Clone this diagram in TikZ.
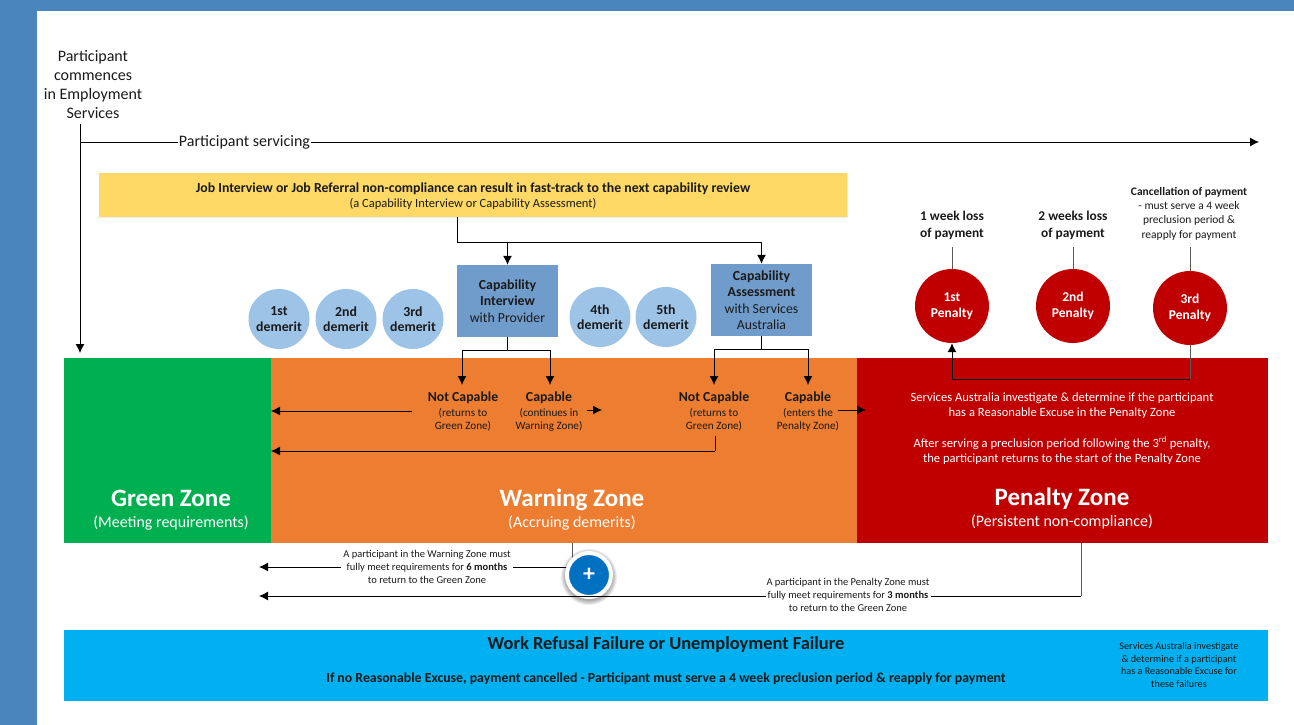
\documentclass[tikz,border=0pt]{standalone}
\usepackage{fontspec}
\setmainfont{Carlito}
\usetikzlibrary{arrows.meta,shadows,calc,shapes.geometric}
\definecolor{frameblue}{HTML}{4A86BC}
\definecolor{amber}{HTML}{FFD966}
\definecolor{boxblue}{HTML}{709CCC}
\definecolor{demerit}{HTML}{9DC3E6}
\definecolor{zgreen}{HTML}{00B050}
\definecolor{zorange}{HTML}{ED7D31}
\definecolor{zred}{HTML}{C00000}
\definecolor{zsky}{HTML}{00B0F0}
\definecolor{plusblue}{HTML}{0070C0}
\definecolor{ink}{HTML}{1A1A1A}
\tikzset{
  frameband/.style={fill=frameblue,draw=none},
  zonebox/.style={draw=none,inner sep=0pt,anchor=north west},
  capbox/.style={rectangle,fill=boxblue,draw=none,minimum width=101pt,minimum height=72pt,inner sep=1pt,align=center,text=ink,font=\fontsize{13.8}{16.5}\selectfont},
  dem/.style={ellipse,fill=demerit,draw=none,minimum width=61pt,minimum height=60pt,inner sep=-5pt,align=center,text=ink,font=\bfseries\fontsize{13.8}{15.5}\selectfont},
  pen/.style={circle,fill=zred,draw=none,minimum size=74pt,inner sep=0pt,align=center,text=white,font=\bfseries\fontsize{13.5}{16}\selectfont},
  conn/.style={draw=black,line width=1pt},
  arr/.style={conn,-{Latex[length=9pt,width=9pt]}},
  greyline/.style={draw=black!65,line width=1pt},
  head/.style={text=ink,font=\bfseries\fontsize{13.8}{15}\selectfont,align=center,inner sep=0pt},
  small/.style={text=ink,font=\fontsize{11.2}{13}\selectfont,align=center,inner sep=0pt},
  note/.style={text=ink,font=\fontsize{10.5}{13}\selectfont,align=center,inner sep=0pt},
  big/.style={text=white,font=\bfseries\fontsize{25}{28}\selectfont,inner sep=0pt,text height=18pt,text depth=5pt},
  zonesub/.style={text=white,font=\fontsize{16}{18}\selectfont,inner sep=0pt},
  redtext/.style={text=white,font=\fontsize{12.6}{15.3}\selectfont,align=center,inner sep=0pt},
}
\begin{document}
\begin{tikzpicture}[x=1pt,y=-1pt]
\useasboundingbox (0,0) rectangle (1294,725);
\fill[white] (0,0) rectangle (1294,725);
\path[frameband] (0,0) rectangle (1294,11);
\path[frameband] (0,0) rectangle (37,725);

% zones
\node[zonebox,fill=zorange,minimum width=586pt,minimum height=185pt] (warn) at (271,358) {};
\node[zonebox,fill=zgreen,minimum width=207pt,minimum height=185pt] (green) at (64,358) {};
\node[zonebox,fill=zred,minimum width=411pt,minimum height=185pt] (red) at (857,358) {};
\node[zonebox,fill=zsky,minimum width=1204pt,minimum height=71pt] (sky) at (64,630) {};
\node[zonebox,fill=amber,minimum width=748pt,minimum height=44pt,drop shadow={opacity=0.15,shadow xshift=1pt,shadow yshift=-1pt}] (yellow) at (99,173) {};

% boxes
\node[capbox] (interview) at (507.5,301) {\textbf{Capability}\\\textbf{Interview}\\with Provider};
\node[capbox] (assess) at (761.5,300) {\textbf{Capability}\\\textbf{Assessment}\\with Services\\Australia};
\node[dem] (d1) at (279,319) {1st\\demerit};
\node[dem] (d2) at (346,319) {2nd\\demerit};
\node[dem] (d3) at (413,319) {3rd\\demerit};
\node[dem] (d4) at (600,317) {4th\\demerit};
\node[dem] (d5) at (666,317) {5th\\demerit};
\node[pen] (p1) at (952,306) {1st\\Penalty};
\node[pen] (p2) at (1073,306) {2nd\\Penalty};
\node[pen] (p3) at (1190,308) {3rd\\Penalty};

% labels above penalties
\node[head,font=\bfseries\fontsize{13.4}{17}\selectfont] (l1) at (952,225.5) {1 week loss\\of payment};
\node[head,font=\bfseries\fontsize{13.4}{17}\selectfont] (l2) at (1073,225.5) {2 weeks loss\\of payment};
\node[small,font=\fontsize{11.5}{14.3}\selectfont] (l3) at (1189,213.5) {\textbf{Cancellation of payment}\\- must serve a 4 week\\preclusion period \&\\reapply for payment};

% coordinates
\coordinate (start) at (80,124);
\coordinate (greenin) at (80,353);
\coordinate (srvstart) at (80,142);
\coordinate (srvend) at (1259,142);
\coordinate (yout) at (457,217);
\coordinate (ybend) at (457,242);
\coordinate (split1) at (507.5,350);
\coordinate (n1) at (462,385);
\coordinate (c1) at (550,385);
\coordinate (split2) at (761.5,349);
\coordinate (n2) at (714,385);
\coordinate (c2) at (808,385);
\coordinate (leftA) at (412,411);
\coordinate (leftAend) at (271,411);
\coordinate (contA) at (587,410);
\coordinate (contB) at (602,410);
\coordinate (entA) at (838,410);
\coordinate (entB) at (866,410);
\coordinate (ret) at (715,436);
\coordinate (retc) at (715,451);
\coordinate (retend) at (271,451);
\coordinate (loopA) at (1190,379);
\coordinate (loopB) at (952,379);
\coordinate (t1) at (952,247);
\coordinate (t2) at (1073,247);
\coordinate (t3) at (1190,247);
\coordinate (wout) at (572,543);
\coordinate (wc) at (572,567);
\coordinate (wend) at (259,567);
\coordinate (pout) at (1081,543);
\coordinate (pc) at (1081,596);
\coordinate (pend) at (259,596);
\coordinate (pluscentre) at (589,575);

% connectors
\draw[conn] (start) -- (srvstart);
\draw[arr] (srvstart) -- (greenin);
\draw[arr] (srvstart) -- (srvend);
\draw[conn] (yout) -- (ybend);
\draw[arr] (ybend) -| (interview.north);
\draw[arr] (ybend) -| (assess.north);
\draw[conn] (interview.south) -- (split1);
\draw[arr] (split1) -| (n1);
\draw[arr] (split1) -| (c1);
\draw[conn] (assess.south) -- (split2);
\draw[arr] (split2) -| (n2);
\draw[arr] (split2) -| (c2);
\draw[arr] (leftA) -- (leftAend);
\draw[arr] (contA) -- (contB);
\draw[arr] (entA) -- (entB);
\draw[conn] (ret) -- (retc);
\draw[arr] (retc) -- (retend);
\draw[greyline] (t1) -- (p1.north);
\draw[greyline] (t2) -- (p2.north);
\draw[greyline] (t3) -- (p3.north);
\draw[greyline] (p3.south) -- (loopA);
\draw[arr] (loopA) -- (loopB) -- (p1.south);
\draw[greyline] (wout) -- (wc);
\draw[arr] (wc) -- (wend);
\draw[greyline] (pout) -- (pc);

% text
\node[text=ink,font=\fontsize{16}{19}\selectfont,align=center,inner sep=0pt] (title) at (93,84.5) {Participant\\commences\\in Employment\\Services};
\node[fill=white,text=ink,font=\fontsize{16}{18}\selectfont,inner sep=1pt] (servicing) at (244.5,142) {Participant servicing};
\node[text=ink,font=\bfseries\fontsize{13.8}{16}\selectfont,inner sep=0pt] (ytext) at (473,188.5) {Job Interview or Job Referral non-compliance can result in fast-track to the next capability review};
\node[text=ink,font=\fontsize{12.5}{16}\selectfont,inner sep=0pt] (ysub) at (473,204) {(a Capability Interview or Capability Assessment)};

\node[head] (tn1) at (463,397.5) {Not Capable};
\node[small] (sn1) at (463,419.5) {(returns to\\Green Zone)};
\node[head] (tc1) at (549,397.5) {Capable};
\node[small] (sc1) at (549,419.5) {(continues in\\Warning Zone)};
\node[head] (tn2) at (714,397.5) {Not Capable};
\node[small] (sn2) at (714,419.5) {(returns to\\Green Zone)};
\node[head] (tc2) at (808,397.5) {Capable};
\node[small] (sc2) at (808,419.5) {(enters the\\Penalty Zone)};

\node[redtext] (r1) at (1062,405.5) {Services Australia investigate \& determine if the participant\\has a Reasonable Excuse in the Penalty Zone};
\node[redtext] (r2) at (1062,450.5) {After serving a preclusion period following the 3\textsuperscript{rd} penalty,\\the participant returns to the start of the Penalty Zone};

\node[big] (gz) at (171,500) {Green Zone};
\node[zonesub] (gs) at (171,523) {(Meeting requirements)};
\node[big] (wz) at (572,500) {Warning Zone};
\node[zonesub] (ws) at (572,523) {(Accruing demerits)};
\node[big] (pz) at (1062,499) {Penalty Zone};
\node[zonesub] (ps) at (1062,522) {(Persistent non-compliance)};

\node[note,fill=white,inner xsep=2pt,inner ysep=0pt] (wt) at (427,567) {A participant in the Warning Zone must\\fully meet requirements for \textbf{6 months}\\to return to the Green Zone};

\node[text=ink,font=\bfseries\fontsize{18.4}{20}\selectfont,inner sep=0pt] (st) at (666,644) {Work Refusal Failure or Unemployment Failure};
\node[text=ink,font=\bfseries\fontsize{13.8}{15}\selectfont,inner sep=0pt] (ss) at (666,678.5) {If no Reasonable Excuse, payment cancelled - Participant must serve a 4 week preclusion period \& reapply for payment};
\node[text=ink,font=\fontsize{10.2}{12.5}\selectfont,align=center,inner sep=0pt] (sr) at (1179,665) {Services Australia investigate\\\& determine if a participant\\has a Reasonable Excuse for\\these failures};

% soft shadow of the button
\foreach \r in {24,25,26,27,28}
  \fill[black,opacity=0.07] ($(pluscentre)+(0,2)$) circle (\r pt);
\node[circle,fill=plusblue,draw=white,line width=4pt,minimum size=44pt,inner sep=0pt,text=white,font=\bfseries\fontsize{24}{24}\selectfont] (plus) at (pluscentre) {+};
\draw[arr] (pc) -- (pend);
\node[note,fill=white,inner xsep=1pt,inner ysep=0pt] (pt) at (848,594.5) {A participant in the Penalty Zone must\\fully meet requirements for \textbf{3 months}\\to return to the Green Zone};
\end{tikzpicture}
\end{document}
